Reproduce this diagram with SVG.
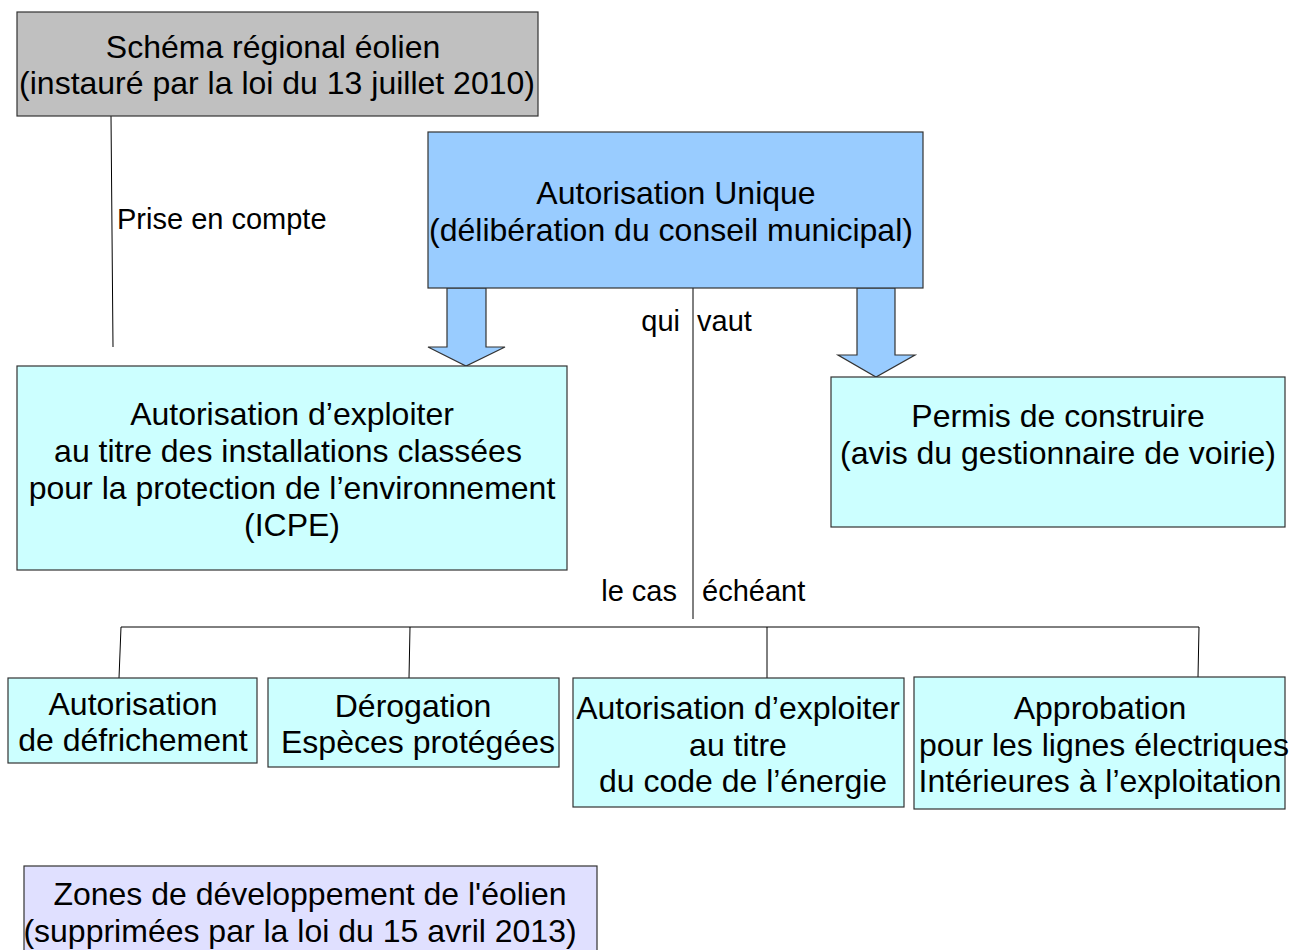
<svg xmlns="http://www.w3.org/2000/svg" width="1290" height="950" viewBox="0 0 1290 950">
<style>
.box{stroke:#333;stroke-width:1.2}
.t{font-family:"Liberation Sans",Arial,sans-serif;font-size:32px;fill:#000;text-anchor:middle}
.l{font-family:"Liberation Sans",Arial,sans-serif;font-size:29px;fill:#000}
.c{stroke:#000;stroke-width:1;fill:none}
.arr{fill:#99ccff;stroke:#333;stroke-width:1.2}
</style>
<rect width="1290" height="950" fill="#fff"/>
<g id="connectors">
<line class="c" x1="111" y1="116" x2="113" y2="347"/>
<text class="l" x="117" y="229">Prise en compte</text>
<line class="c" x1="693" y1="288" x2="693" y2="619"/>
<text class="l" x="680" y="331" text-anchor="end">qui</text>
<text class="l" x="697" y="331">vaut</text>
<text class="l" x="677" y="601" text-anchor="end">le cas</text>
<text class="l" x="702" y="601">échéant</text>
<line class="c" x1="121" y1="627" x2="1199" y2="627"/>
<line class="c" x1="121" y1="627" x2="119" y2="678"/>
<line class="c" x1="410" y1="627" x2="409" y2="678"/>
<line class="c" x1="767" y1="627" x2="767" y2="678"/>
<line class="c" x1="1199" y1="627" x2="1198" y2="677"/>
<polygon class="arr" points="447,288 486,288 486,347 505,347 466,366 428,347 447,347"/>
<polygon class="arr" points="857,288 895,288 895,355 915,355 876,377 838,355 857,355"/>
</g>
<g id="schema">
<rect class="box" x="17" y="12" width="521" height="104" fill="#c0c0c0"/>
<text class="t" x="273" y="58">Schéma régional éolien</text>
<text class="t" x="277" y="94">(instauré par la loi du 13 juillet 2010)</text>
</g>
<g id="autorisation-unique">
<rect class="box" x="428" y="132" width="495" height="156" fill="#99ccff"/>
<text class="t" x="676" y="204">Autorisation Unique</text>
<text class="t" x="671" y="241">(délibération du conseil municipal)</text>
</g>
<g id="icpe">
<rect class="box" x="17" y="366" width="550" height="204" fill="#ccffff"/>
<text class="t" x="292" y="425">Autorisation d’exploiter</text>
<text class="t" x="288" y="462">au titre des installations classées</text>
<text class="t" x="292" y="499">pour la protection de l’environnement</text>
<text class="t" x="292" y="536">(ICPE)</text>
</g>
<g id="permis">
<rect class="box" x="831" y="377" width="454" height="150" fill="#ccffff"/>
<text class="t" x="1058" y="427">Permis de construire</text>
<text class="t" x="1058" y="464">(avis du gestionnaire de voirie)</text>
</g>
<g id="defrichement">
<rect class="box" x="8" y="678" width="249" height="85" fill="#ccffff"/>
<text class="t" x="133" y="715">Autorisation</text>
<text class="t" x="133" y="751">de défrichement</text>
</g>
<g id="derogation">
<rect class="box" x="268" y="678" width="291" height="89" fill="#ccffff"/>
<text class="t" x="413" y="717">Dérogation</text>
<text class="t" x="418" y="753">Espèces protégées</text>
</g>
<g id="energie">
<rect class="box" x="573" y="678" width="331" height="129" fill="#ccffff"/>
<text class="t" x="738" y="719">Autorisation d’exploiter</text>
<text class="t" x="738" y="756">au titre</text>
<text class="t" x="743" y="792">du code de l’énergie</text>
</g>
<g id="approbation">
<rect class="box" x="914" y="677" width="371" height="132" fill="#ccffff"/>
<text class="t" x="1100" y="719">Approbation</text>
<text class="t" x="1104" y="756">pour les lignes électriques</text>
<text class="t" x="1100" y="792">Intérieures à l’exploitation</text>
</g>
<g id="zones">
<rect class="box" x="24" y="866" width="573" height="100" fill="#e0e0ff"/>
<text class="t" x="310" y="905">Zones de développement de l'éolien</text>
<text class="t" x="300" y="942">(supprimées par la loi du 15 avril 2013)</text>
</g>
</svg>
